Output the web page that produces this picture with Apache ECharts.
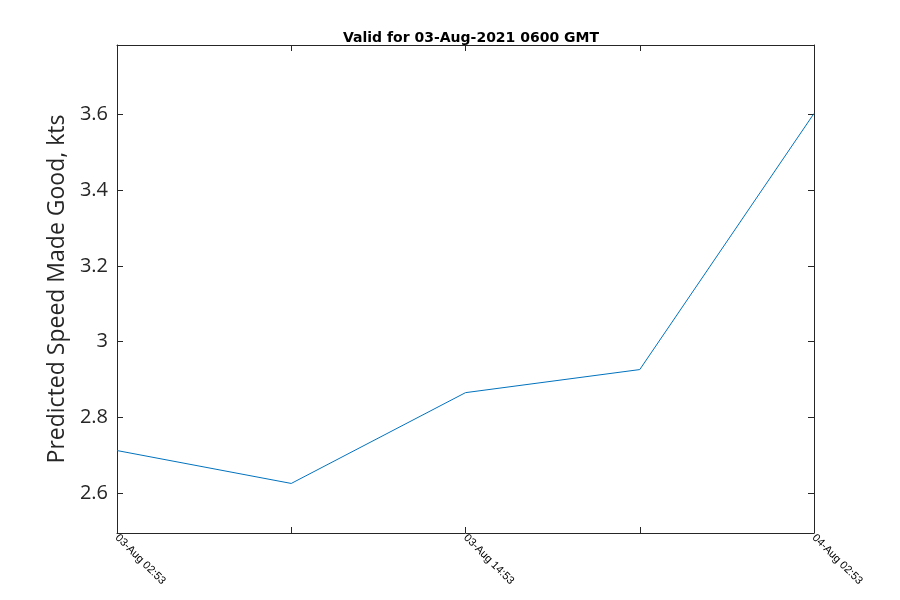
<!DOCTYPE html>
<html>
<head>
<meta charset="utf-8">
<script src="https://cdn.jsdelivr.net/npm/echarts@6/dist/echarts.min.js"></script>
<style>html,body{margin:0;padding:0;background:#fff}#c{width:900px;height:600px}</style>
</head>
<body>
<div id="c"></div>
<script>
var categories = ['03-Aug 02:53', '03-Aug 08:53', '03-Aug 14:53', '03-Aug 20:53', '04-Aug 02:53'];
var tickLabels = ['03-Aug 02:53', '', '03-Aug 14:53', '', '04-Aug 02:53'];
var speedValues = [2.712, 2.625, 2.865, 2.926, 3.603];
var yTicks = [2.6, 2.8, 3.0, 3.2, 3.4, 3.6];
var yMin = 2.494, yMax = 3.784;

var axisColor = '#262626';
var chart = echarts.init(document.getElementById('c'), null, {renderer: 'canvas'});
chart.setOption({
  animation: false,
  title: {
    text: 'Valid for 03-Aug-2021 0600 GMT',
    left: 466, top: 26, textAlign: 'center',
    textStyle: {fontFamily: 'DejaVu Sans', fontSize: 14, fontWeight: 'bold', color: '#000'}
  },
  grid: {left: 117, top: 45, right: 86, bottom: 67, containLabel: false},
  xAxis: [{
    type: 'category', data: categories, boundaryGap: false,
    axisLine: {lineStyle: {color: axisColor, width: 1}},
    axisTick: {inside: true, length: 6, alignWithLabel: true, interval: 0, lineStyle: {color: axisColor}},
    axisLabel: {
      interval: 0, rotate: -45, fontSize: 11, fontFamily: 'Liberation Sans', color: '#000', margin: 3,
      formatter: function (v, i) { return tickLabels[i]; }
    },
    splitLine: {show: false}
  }, {
    type: 'category', data: categories, boundaryGap: false, position: 'top',
    axisLine: {lineStyle: {color: axisColor, width: 1}},
    axisTick: {inside: true, length: 6, interval: 0, lineStyle: {color: axisColor}},
    axisLabel: {show: false}, splitLine: {show: false}
  }],
  yAxis: [{
    type: 'value', min: yMin, max: yMax,
    name: 'Predicted Speed Made Good, kts', nameLocation: 'middle', nameGap: 46,
    nameTextStyle: {fontFamily: 'Open Sans', fontSize: 23, color: axisColor},
    axisLine: {show: true, lineStyle: {color: axisColor, width: 1}},
    axisTick: {show: true, inside: true, length: 6, customValues: yTicks, lineStyle: {color: axisColor}},
    axisLabel: {customValues: yTicks, fontFamily: 'Open Sans', fontSize: 20, color: axisColor, margin: 9},
    splitLine: {show: false}
  }, {
    type: 'value', min: yMin, max: yMax, position: 'right',
    axisLine: {show: true, lineStyle: {color: axisColor, width: 1}},
    axisTick: {show: true, inside: true, length: 6, customValues: yTicks, lineStyle: {color: axisColor}},
    axisLabel: {show: false}, splitLine: {show: false}
  }],
  series: [{
    type: 'line', data: speedValues, xAxisIndex: 0, yAxisIndex: 0,
    showSymbol: false, symbol: 'none',
    lineStyle: {color: '#0072BD', width: 1}
  }]
});
</script>
</body>
</html>
